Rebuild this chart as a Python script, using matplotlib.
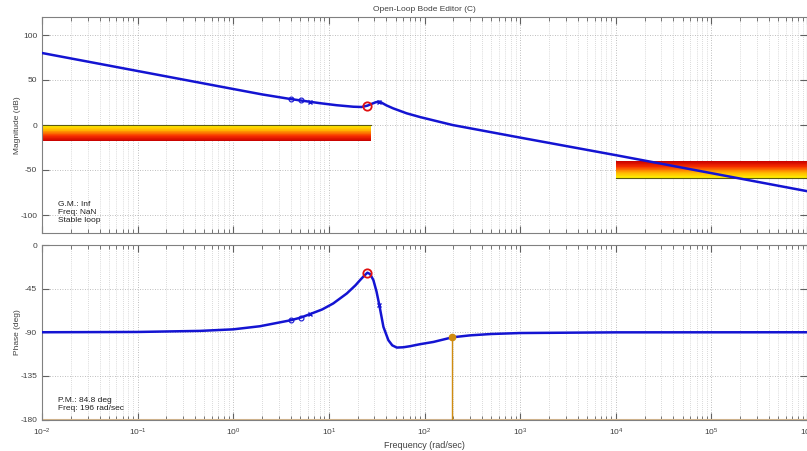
import numpy as np
import matplotlib
matplotlib.use('Agg')
import matplotlib.pyplot as plt
from matplotlib.colors import LinearSegmentedColormap
from matplotlib.ticker import LogLocator, NullFormatter

plt.rcParams['font.family'] = ['Liberation Sans', 'DejaVu Sans']
plt.rcParams['axes.unicode_minus'] = False

# -------- Data --------
mag_freq = [0.01, 0.1, 1, 2, 4, 8, 12, 18, 22, 25.3, 28, 31, 33.7, 36,
            40, 47, 65, 90, 196, 1e3, 1e4, 1e5, 1e6]
mag_db = [80, 60, 40, 34, 28.8, 24.3, 22, 20.3, 20.0, 21.5, 23.5, 25.3, 26, 24.5,
          21.8, 18.5, 13, 8.8, 0, -14, -33.5, -53.5, -73.5]

ph_freq = [0.01, 0.1, 0.45, 1, 1.9, 4, 5.1, 6.35, 8.5, 11.1, 15.4, 19, 21.2,
           23.5, 25.3, 27, 29.2, 31.5, 33.7, 37.2, 41.9, 46, 51.3, 60, 70.6,
           90, 124, 196, 300, 500, 1e3, 1e4, 1e6]
ph_deg = [-90, -89.7, -88.6, -87, -83.8, -77.6, -74.8, -71.3, -66.5, -60.3,
          -50, -41.5, -36.2, -31.5, -28.6, -30, -36.2, -48, -62, -84.5, -98.2,
          -103.5, -105.8, -105.5, -104.4, -102.3, -100, -95.2, -93.2, -91.8,
          -90.8, -90.1, -90]

# compensator zeros (o) and poles (x)
zero_freq = [4.0, 5.1]
pole_freq = [6.35, 33.7]
comp_freq = 25.3          # red circle

# stability margins
pm_freq = 196
pm_phase = -95.2

# design requirement regions: [yellow edge, red edge]
low_req_freq = [0.01, 27.6]
low_req_db = [0, -18]
high_req_freq = [1e4, 1e6]
high_req_db = [-59, -40]

# -------- Figure --------
fig = plt.figure(figsize=(8.07, 4.51), dpi=100)
ax1 = fig.add_axes([42/807, 1-233/451, 1-42/807, 216/451])
ax2 = fig.add_axes([42/807, 1-419.5/451, 1-42/807, 174.5/451])

req_cmap = LinearSegmentedColormap.from_list(
    'req', ['#fff200', '#ffb000', '#f83000', '#c80000'])


def req_bar(ax, f, db):
    edges = np.linspace(db[0], db[1], 41)
    c = np.linspace(0, 1, 40).reshape(40, 1)
    ax.pcolormesh(f, edges, c, cmap=req_cmap, shading='flat', zorder=2)
    ax.plot(f, [db[0], db[0]], color='#5a5a10', lw=0.8, zorder=2.5)


req_bar(ax1, low_req_freq, low_req_db)
req_bar(ax1, high_req_freq, high_req_db)

blue = '#1414d2'
ax1.plot(mag_freq, mag_db, color=blue, lw=1.8, zorder=3)
ax2.plot(ph_freq, ph_deg, color=blue, lw=1.8, zorder=3)

# markers on the curves
ax1.plot(zero_freq, np.interp(np.log10(zero_freq), np.log10(mag_freq), mag_db),
         'o', mfc='none', mec=blue, ms=3.5, mew=0.8, zorder=4)
ax1.plot(pole_freq, np.interp(np.log10(pole_freq), np.log10(mag_freq), mag_db),
         'x', color=blue, ms=3.5, mew=1.0, zorder=4)
ax2.plot(zero_freq, np.interp(np.log10(zero_freq), np.log10(ph_freq), ph_deg),
         'o', mfc='none', mec=blue, ms=3.5, mew=0.8, zorder=4)
ax2.plot(pole_freq, np.interp(np.log10(pole_freq), np.log10(ph_freq), ph_deg),
         'x', color=blue, ms=3.5, mew=1.0, zorder=4)

ax1.plot([comp_freq], np.interp(np.log10([comp_freq]), np.log10(mag_freq), mag_db),
         'o', mfc='none', mec='#e01010', ms=6, mew=1.3, zorder=5)
ax2.plot([comp_freq], np.interp(np.log10([comp_freq]), np.log10(ph_freq), ph_deg),
         'o', mfc='none', mec='#e01010', ms=6, mew=1.3, zorder=5)

# phase margin line
orange = '#d08c10'
ax2.axhline(-180, color='#d2b48c', lw=1.5, zorder=2)
ax2.plot([pm_freq, pm_freq], [pm_phase, -180], color=orange, lw=1.0, zorder=2)
ax2.plot([pm_freq], [pm_phase], 'o', color=orange, ms=4.5, zorder=5)

# -------- Axes styling --------
for ax in (ax1, ax2):
    ax.set_xscale('log')
    ax.set_xlim(1e-2, 1e6)
    ax.xaxis.set_major_locator(LogLocator(base=10, numticks=20))
    ax.xaxis.set_minor_locator(LogLocator(base=10, subs=np.arange(2, 10), numticks=20))
    ax.xaxis.set_minor_formatter(NullFormatter())
    ax.grid(True, which='major', color='#a8a8a8', linestyle=(0, (1, 2)), lw=0.6)
    ax.grid(True, which='minor', axis='x', color='#b8b8b8', linestyle=(0, (1, 2)), lw=0.5)
    ax.tick_params(which='both', direction='in', top=True, right=True,
                   labelsize=6, colors='#606060', labelcolor='#404040')
    ax.tick_params(which='major', length=5)
    ax.tick_params(which='minor', length=3)
    for s in ax.spines.values():
        s.set_color('#808080')
        s.set_linewidth(0.8)

ax1.set_ylim(-120, 120)
ax1.set_yticks([-100, -50, 0, 50, 100])
ax1.tick_params(axis='x', which='both', labelbottom=False)
ax2.set_ylim(-180, 0)
ax2.set_yticks([-180, -135, -90, -45, 0])
ax2.tick_params(axis='x', pad=5)

ax1.set_title('Open-Loop Bode Editor (C)', fontsize=6, color='#404040', pad=4)
ax1.set_ylabel('Magnitude (dB)', fontsize=6, color='#404040')
ax2.set_ylabel('Phase (deg)', fontsize=6, color='#404040')
ax1.yaxis.set_label_coords(-0.028, 0.5)
ax2.yaxis.set_label_coords(-0.028, 0.5)
ax2.set_xlabel('Frequency (rad/sec)', fontsize=6.5, color='#404040', labelpad=2)

ax1.text(0.021, 0.04, 'G.M.: Inf\nFreq: NaN\nStable loop', transform=ax1.transAxes,
         fontsize=6, color='#202020', va='bottom', ha='left', linespacing=1.2)
ax2.text(0.021, 0.045, 'P.M.: 84.8 deg\nFreq: 196 rad/sec', transform=ax2.transAxes,
         fontsize=6, color='#202020', va='bottom', ha='left', linespacing=1.2)

fig.savefig('out.png', dpi=100)
